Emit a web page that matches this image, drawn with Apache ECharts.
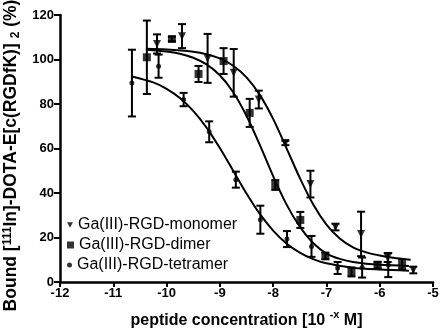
<!DOCTYPE html>
<html>
<head>
<meta charset="utf-8">
<script src="https://cdn.jsdelivr.net/npm/echarts@6/dist/echarts.min.js"></script>
<style>
  html, body { margin: 0; background: #fff; }
  #chart { width: 440px; height: 328px; }
</style>
</head>
<body>
<div id="chart"></div>
<script>
// log concentration, mean bound %, error
var monoX = [-10.18, -9.71, -9.23, -8.74, -8.27, -7.77, -7.30, -6.83, -6.35, -5.85, -5.37]
var monoY = [107, 110.5, 100.5, 94, 82, 62.5, 44, 24.7, 21.6, 11, 5.4]
var monoErr = [4.3, 5.4, 11, 10.7, 4, 1, 6, 1.5, 10, 2, 1.5]

var dimerX = [-10.37, -9.90, -9.40, -8.93, -8.44, -7.96, -7.49, -7.02, -6.53, -6.04, -5.58]
var dimerY = [101, 109.2, 93.5, 99.3, 76, 43.6, 27.9, 11.7, 4.5, 7.6, 8]
var dimerErr = [16.5, 1, 3.6, 5.8, 6.3, 2.2, 3.6, 1.5, 2, 1.5, 2.2]

var tetraX = [-10.65, -10.15, -9.68, -9.20, -8.70, -8.24, -7.74, -7.28, -6.79, -6.33, -5.84]
var tetraY = [89.4, 97, 82, 67.5, 46, 28, 19.3, 16, 6.3, 6.5, 7.6]
var tetraErr = [15, 5.2, 3, 4.7, 3.6, 6.3, 3.6, 4.7, 2.7, 4.5, 5.4]

// fitted curves
var monoCurveX = [-10.39, -10, -9.5, -9.25, -9, -8.75, -8.5, -8.25, -8, -7.75, -7.5, -7.25, -7, -6.75, -6.5, -6.25, -6, -5.75, -5.42]
var monoCurveY = [104.8, 104.5, 103.5, 102.4, 100.5, 97.2, 92.0, 84.1, 73.3, 60.2, 46.8, 34.9, 25.8, 19.6, 15.6, 13.3, 11.9, 10.9, 10.0]
var dimerCurveX = [-10.37, -10, -9.75, -9.5, -9.25, -9, -8.75, -8.5, -8.25, -8, -7.75, -7.5, -7.25, -7, -6.75, -6.5, -6, -5.45]
var dimerCurveY = [104.4, 103.6, 102.6, 100.8, 97.8, 92.9, 85.3, 74.7, 61.6, 47.6, 34.9, 24.9, 17.5, 12.8, 10.4, 9.0, 7.7, 7.2]
var tetraCurveX = [-10.65, -10.25, -10, -9.75, -9.5, -9.25, -9, -8.75, -8.5, -8.25, -8, -7.75, -7.5, -7.25, -7, -6.5, -6, -5.45]
var tetraCurveY = [92.4, 89.7, 86.8, 82.7, 76.9, 69.4, 60.2, 50, 39.8, 30.6, 23.1, 17.3, 13.2, 10.3, 8.4, 6.4, 5.6, 5.1]

var names = ['Ga(III)-RGD-monomer', 'Ga(III)-RGD-dimer', 'Ga(III)-RGD-tetramer']
var triDown = 'path://M0,0 L10,0 L5,9 Z'
var font = 'Liberation Sans, Arial, sans-serif'

function pairs (xs, ys) {
  return xs.map(function (x, i) { return [x, ys[i]] })
}

function curve (xs, ys) {
  return {
    type: 'line',
    data: pairs(xs, ys),
    smooth: 0.3,
    showSymbol: false,
    silent: true,
    lineStyle: { color: '#000', width: 2 },
    z: 2
  }
}

function errorBars (xs, ys, errs) {
  return {
    type: 'custom',
    data: xs.map(function (x, i) { return [x, ys[i] - errs[i], ys[i] + errs[i]] }),
    encode: { x: 0, y: [1, 2] },
    silent: true,
    renderItem: function (params, api) {
      var lo = api.coord([api.value(0), api.value(1)])
      var hi = api.coord([api.value(0), api.value(2)])
      var w = 4
      var style = { stroke: '#000', lineWidth: 2 }
      return {
        type: 'group',
        children: [
          { type: 'line', shape: { x1: lo[0], y1: lo[1], x2: hi[0], y2: hi[1] }, style: style },
          { type: 'line', shape: { x1: lo[0] - w, y1: lo[1], x2: lo[0] + w, y2: lo[1] }, style: style },
          { type: 'line', shape: { x1: hi[0] - w, y1: hi[1], x2: hi[0] + w, y2: hi[1] }, style: style }
        ]
      }
    },
    z: 3
  }
}

function points (name, xs, ys, symbol, size) {
  return {
    type: 'scatter',
    name: name,
    data: pairs(xs, ys),
    symbol: symbol,
    symbolSize: size,
    itemStyle: { color: '#000' },
    z: 4
  }
}

function legendAt (name, icon, size, top) {
  return {
    data: [{ name: name, icon: icon }],
    left: 67,
    top: top,
    padding: 0,
    itemWidth: size,
    itemHeight: size,
    itemGap: 0,
    selectedMode: false,
    textStyle: { fontFamily: font, fontSize: 16, color: '#000' }
  }
}

var chart = echarts.init(document.getElementById('chart'))
var option = {
  animation: false,
  grid: { left: 60, right: 7, top: 15, bottom: 46, outerBoundsMode: 'none' },
  legend: [
    legendAt(names[0], triDown, 6, 217),
    legendAt(names[1], 'rect', 7, 237),
    legendAt(names[2], 'circle', 5, 257)
  ],
  xAxis: {
    type: 'value',
    min: -12,
    max: -5,
    interval: 1,
    splitLine: { show: false },
    axisLine: { onZero: false, lineStyle: { color: '#000', width: 2.5 } },
    axisTick: { length: 5, lineStyle: { color: '#000', width: 2 } },
    axisLabel: { color: '#000', fontFamily: font, fontWeight: 'bold', fontSize: 13, margin: 5 },
    name: '{b|peptide concentration [10 }{sup|-x}{b| M]}',
    nameLocation: 'middle',
    nameGap: 27,
    nameTextStyle: {
      rich: {
        b: { fontFamily: font, fontWeight: 'bold', fontSize: 16, color: '#000', lineHeight: 20, verticalAlign: 'bottom' },
        sup: { fontFamily: font, fontWeight: 'bold', fontSize: 11, color: '#000', lineHeight: 11, verticalAlign: 'top' }
      }
    }
  },
  yAxis: {
    type: 'value',
    min: 0,
    max: 120,
    interval: 20,
    splitLine: { show: false },
    axisLine: { lineStyle: { color: '#000', width: 2.5 } },
    axisTick: { length: 6, lineStyle: { color: '#000', width: 2 } },
    axisLabel: { color: '#000', fontFamily: font, fontWeight: 'bold', fontSize: 13, margin: 6 },
    name: '{b|Bound [}{sup|111}{b|In]-DOTA-E[c(RGDfK)] }{sub|2}{b| (%)}',
    nameLocation: 'middle',
    nameGap: 35,
    nameTextStyle: {
      padding: [0, 14, 0, 0],
      rich: {
        b: { fontFamily: font, fontWeight: 'bold', fontSize: 17.5, color: '#000', lineHeight: 20, verticalAlign: 'middle' },
        sup: { fontFamily: font, fontWeight: 'bold', fontSize: 12, color: '#000', lineHeight: 12, verticalAlign: 'top' },
        sub: { fontFamily: font, fontWeight: 'bold', fontSize: 12, color: '#000', lineHeight: 12, verticalAlign: 'bottom' }
      }
    }
  },
  series: [
    curve(monoCurveX, monoCurveY),
    curve(dimerCurveX, dimerCurveY),
    curve(tetraCurveX, tetraCurveY),
    errorBars(monoX, monoY, monoErr),
    errorBars(dimerX, dimerY, dimerErr),
    errorBars(tetraX, tetraY, tetraErr),
    points(names[0], monoX, monoY, triDown, [8, 8]),
    points(names[1], dimerX, dimerY, 'rect', 8),
    points(names[2], tetraX, tetraY, 'circle', 5)
  ]
}
chart.setOption(option)
window.addEventListener('resize', () => chart.resize())
</script>
</body>
</html>
